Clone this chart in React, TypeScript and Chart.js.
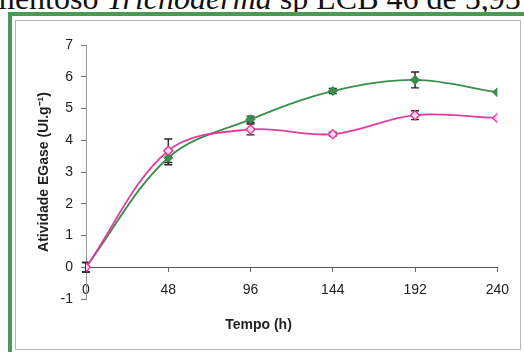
import React, { useEffect, useRef } from "react";
import { Chart, registerables } from "chart.js";

Chart.register(...registerables);

const times = [0, 48, 96, 144, 192, 240];
const xTicks = [0, 48, 96, 144, 192, 240];
const greenValues = [0, 3.45, 4.66, 5.55, 5.9, 5.51];
const greenErrors = [0.15, 0.22, 0.1, 0.08, 0.25, 0];
const pinkValues = [0, 3.67, 4.34, 4.19, 4.79, 4.7];
const pinkErrors = [0.15, 0.37, 0.17, 0.06, 0.14, 0];
const yTitle = "Atividade EGase (UI.g\u207B\u00B9)";
const xTitle = "Tempo (h)";

const errorBarPlugin = {
  id: "errorBars",
  beforeDatasetsDraw(chart: any) {
    const { ctx, scales } = chart;
    const xs = scales.x;
    const ys = scales.y;
    ctx.save();
    ctx.strokeStyle = "#222";
    ctx.lineWidth = 1.4;
    chart.data.datasets.forEach((ds: any) => {
      const errs: number[] = ds.errors || [];
      ds.data.forEach((p: any, i: number) => {
        const e = errs[i];
        if (!e) return;
        const x = xs.getPixelForValue(p.x);
        const y1 = ys.getPixelForValue(p.y + e);
        const y2 = ys.getPixelForValue(p.y - e);
        ctx.beginPath();
        ctx.moveTo(x, y1);
        ctx.lineTo(x, y2);
        ctx.moveTo(x - 4, y1);
        ctx.lineTo(x + 4, y1);
        ctx.moveTo(x - 4, y2);
        ctx.lineTo(x + 4, y2);
        ctx.stroke();
      });
    });
    ctx.restore();
  },
};

export default function App() {
  const ref = useRef<HTMLCanvasElement>(null);
  useEffect(() => {
    if (!ref.current) return;
    const font = "'Liberation Sans', Arial, sans-serif";
    const chart = new Chart(ref.current, {
      type: "line",
      data: {
        datasets: [
          {
            label: "rosa",
            data: times.map((t, i) => ({ x: t, y: pinkValues[i] })),
            errors: pinkErrors,
            borderColor: "#e23c9c",
            backgroundColor: "#f8d0e8",
            borderWidth: 1.8,
            pointStyle: "rectRot",
            pointRadius: 4.5,
            pointBorderWidth: 1.5,
            pointBorderColor: "#e23c9c",
            pointBackgroundColor: "#fbd9ec",
            tension: 0.35,
          } as any,
          {
            label: "verde",
            data: times.map((t, i) => ({ x: t, y: greenValues[i] })),
            errors: greenErrors,
            borderColor: "#3a8f4a",
            backgroundColor: "#3a8f4a",
            borderWidth: 1.8,
            pointStyle: "rectRot",
            pointRadius: 4.5,
            pointBorderWidth: 1,
            pointBorderColor: "#2f7d3d",
            pointBackgroundColor: "#3a8f4a",
            tension: 0.35,
          } as any,
        ],
      },
      options: {
        animation: false,
        responsive: false,
        maintainAspectRatio: false,
        layout: { padding: { left: 0, right: 19, top: 24, bottom: 0 } },
        plugins: {
          legend: { display: false },
          tooltip: { enabled: false },
          title: {
            display: true,
            text: xTitle,
            position: "bottom",
            color: "#222",
            font: { family: font, size: 14, weight: "bold" },
            padding: { top: 17.6, bottom: 14.6 },
          },
        },
        scales: {
          x: {
            type: "linear",
            position: { y: 0 } as any,
            min: 0,
            max: 240,
            afterBuildTicks: (s: any) => {
              s.ticks = xTicks.map((v) => ({ value: v }));
            },
            ticks: {
              color: "#222",
              font: { family: font, size: 14 },
              padding: 10,
              maxRotation: 0,
            },
            grid: {
              drawOnChartArea: false,
              drawTicks: true,
              tickLength: 4,
              color: "#666",
            },
            border: { display: true, color: "#555", width: 1 },
          },
          y: {
            type: "linear",
            min: -1,
            max: 7,
            afterFit: (s: any) => {
              s.width = 69;
            },
            ticks: {
              stepSize: 1,
              color: "#222",
              font: { family: font, size: 14 },
              padding: 8,
            },
            grid: {
              drawOnChartArea: false,
              drawTicks: true,
              tickLength: 5,
              color: "#777",
            },
            border: { display: true, color: "#999", width: 1 },
            title: {
              display: true,
              text: yTitle,
              color: "#222",
              font: { family: font, size: 14, weight: "bold" },
              padding: { top: 18.8, bottom: 0 },
            },
          },
        },
      } as any,
      plugins: [errorBarPlugin],
    });
    return () => chart.destroy();
  }, []);

  return (
    <div
      style={{
        position: "fixed",
        left: 0,
        top: 0,
        width: 524,
        height: 352,
        overflow: "hidden",
        background: "#fff",
      }}
    >
      <div
        style={{
          position: "absolute",
          left: -10,
          top: -18,
          fontFamily: "'Liberation Serif', 'Times New Roman', serif",
          fontSize: 32,
          lineHeight: "32px",
          whiteSpace: "nowrap",
          color: "#111",
        }}
      >
        mentoso <i>Trichoderma</i> sp LCB 46 de 5,95 U
      </div>
      <div
        style={{
          position: "absolute",
          left: 8,
          top: 12,
          width: 540,
          height: 360,
          border: "4px solid #4a9a55",
          boxSizing: "border-box",
        }}
      />
      <div
        style={{
          position: "absolute",
          left: 15,
          top: 20,
          width: 506,
          height: 330,
          border: "1px solid #b8b8b8",
          boxSizing: "border-box",
        }}
      />
      <canvas
        ref={ref}
        width={502}
        height={327}
        style={{ position: "absolute", left: 17, top: 21, width: 502, height: 327 }}
      />
    </div>
  );
}
